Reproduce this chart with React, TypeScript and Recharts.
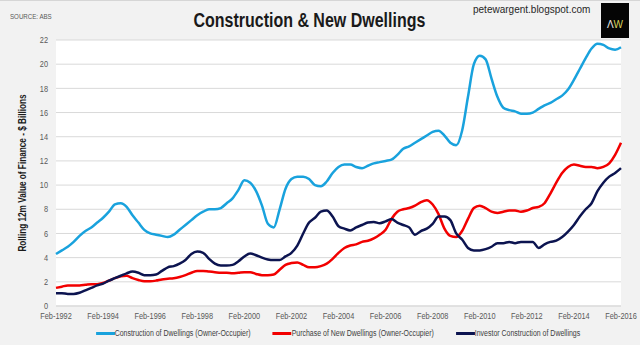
import { CartesianGrid, Line, LineChart, XAxis, YAxis } from "recharts";

// quarterly readings (Feb, May, Aug, Nov) from Feb-1992 to Feb-2016, $ billions
const ownerConstruction = [
  4.3, 4.6, 4.9, 5.3, 5.8, 6.2, 6.5, 6.9, 7.3, 7.8, 8.4, 8.5,
  8.2, 7.5, 6.9, 6.3, 6.0, 5.9, 5.8, 5.7, 5.9, 6.3, 6.7, 7.1,
  7.5, 7.8, 8.0, 8.0, 8.1, 8.5, 8.9, 9.6, 10.4, 10.2, 9.5, 8.3,
  6.8, 6.5, 8.0, 9.7, 10.5, 10.7, 10.7, 10.5, 10.0, 9.9, 10.3, 11.0,
  11.5, 11.7, 11.7, 11.5, 11.4, 11.6, 11.8, 11.9, 12.0, 12.1, 12.5, 13.0,
  13.2, 13.5, 13.8, 14.1, 14.4, 14.5, 14.1, 13.5, 13.3, 14.5, 17.3, 20.0,
  20.7, 20.4, 18.8, 17.3, 16.4, 16.2, 16.1, 15.9, 15.9, 16.0, 16.3, 16.6,
  16.8, 17.1, 17.4, 17.9, 18.7, 19.6, 20.5, 21.3, 21.7, 21.6, 21.3, 21.2,
  21.4,
];
const ownerPurchase = [
  1.5, 1.6, 1.7, 1.7, 1.7, 1.75, 1.8, 1.8, 1.9, 2.1, 2.3, 2.45,
  2.5, 2.3, 2.15, 2.05, 2.05, 2.1, 2.2, 2.25, 2.3, 2.4, 2.55, 2.75,
  2.9, 2.9, 2.85, 2.8, 2.75, 2.75, 2.7, 2.75, 2.8, 2.8, 2.65, 2.55,
  2.55, 2.6, 3.0, 3.4, 3.55, 3.6, 3.4, 3.2, 3.2, 3.3, 3.5, 3.9,
  4.4, 4.8, 5.0, 5.1, 5.3, 5.4, 5.6, 5.9, 6.3, 7.2, 7.8, 8.0,
  8.1, 8.3, 8.6, 8.75, 8.4, 7.6, 6.4, 5.8, 5.7, 6.2, 7.2, 8.1,
  8.3, 8.1, 7.8, 7.7, 7.8, 7.9, 7.9, 7.8, 7.9, 8.1, 8.2, 8.5,
  9.3, 10.2, 11.0, 11.5, 11.7, 11.6, 11.5, 11.5, 11.4, 11.5, 11.8, 12.5,
  13.5,
];
const investorConstruction = [
  1.05, 1.05, 1.0, 1.0, 1.1, 1.3, 1.5, 1.7, 1.85, 2.1, 2.3, 2.5,
  2.7, 2.85, 2.75, 2.55, 2.55, 2.6, 2.9, 3.2, 3.3, 3.5, 3.8, 4.3,
  4.5, 4.4, 3.9, 3.5, 3.35, 3.35, 3.4, 3.7, 4.1, 4.35, 4.2, 4.0,
  3.85, 3.8, 3.8, 4.1, 4.4, 5.0, 6.0, 6.9, 7.3, 7.8, 7.9, 7.4,
  6.6, 6.4, 6.25, 6.5, 6.7, 6.9, 6.95, 6.85, 7.0, 7.2, 6.9, 6.7,
  6.5, 5.9, 6.2, 6.4, 6.8, 7.4, 7.4, 7.1, 6.0, 5.5, 4.8, 4.6,
  4.6, 4.7, 4.9, 5.2, 5.2, 5.3, 5.2, 5.3, 5.3, 5.3, 4.8, 5.1,
  5.3, 5.4, 5.7, 6.15, 6.7, 7.4, 8.0, 8.5, 9.5, 10.2, 10.7, 11.0,
  11.4,
];

const tickLabels = [
  "Feb-1992", "Feb-1994", "Feb-1996", "Feb-1998", "Feb-2000", "Feb-2002", "Feb-2004",
  "Feb-2006", "Feb-2008", "Feb-2010", "Feb-2012", "Feb-2014", "Feb-2016",
];
const yTicks = [0, 2, 4, 6, 8, 10, 12, 14, 16, 18, 20, 22];

const series = [
  { key: "owner", name: "Construction of Dwellings (Owner-Occupier)", color: "#19a2dd" },
  { key: "purchase", name: "Purchase of New Dwellings (Owner-Occupier)", color: "#f20000" },
  { key: "investor", name: "Investor Construction of Dwellings", color: "#0c1450" },
];

const data = ownerConstruction.map((v, i) => ({
  q: i,
  owner: v,
  purchase: ownerPurchase[i],
  investor: investorConstruction[i],
}));

// no narrow font installed, so Liberation Sans gets squeezed horizontally
const SANS = "'Liberation Sans', Arial, sans-serif";
const SQUEEZE = 0.82;

function NarrowTick(props: any) {
  const { x, y, payload, textAnchor, vertical } = props;
  const label = vertical ? payload.value : tickLabels[payload.value / 8];
  return (
    <text
      transform={`translate(${x},${y}) scale(${SQUEEZE},1)`}
      textAnchor={textAnchor}
      dy={vertical ? "0.355em" : "0.71em"}
      fontSize={9}
      fill="#595959"
      fontFamily={SANS}
    >
      {label}
    </text>
  );
}

export default function App() {
  return (
    <div
      style={{
        position: "absolute",
        left: 0,
        top: 0,
        width: 640,
        height: 345,
        background: "#f2f2f2",
        overflow: "hidden",
        fontFamily: SANS,
      }}
    >
      <div style={{ position: "absolute", left: 0, top: 0, width: 640, height: 1, background: "#d6d6d6" }} />
      <div
        style={{
          position: "absolute",
          left: 10,
          top: 13,
          fontSize: 7.5,
          lineHeight: "8px",
          color: "#595959",
          whiteSpace: "nowrap",
          transform: `scaleX(${SQUEEZE})`,
          transformOrigin: "0 0",
        }}
      >
        SOURCE: ABS
      </div>
      <div
        style={{
          position: "absolute",
          left: 0,
          top: 10,
          width: 618,
          textAlign: "center",
        }}
      >
        <span
          style={{
            display: "inline-block",
            fontWeight: "bold",
            fontSize: 19.5,
            lineHeight: "20px",
            color: "#1a1a1a",
            whiteSpace: "nowrap",
            transform: `scaleX(${SQUEEZE})`,
          }}
        >
          Construction &amp; New Dwellings
        </span>
      </div>
      <div
        style={{
          position: "absolute",
          left: 473,
          top: 4,
          fontSize: 10,
          lineHeight: "12px",
          color: "#262626",
        }}
      >
        petewargent.blogspot.com
      </div>
      <div
        style={{
          position: "absolute",
          left: 601,
          top: 3,
          width: 28,
          height: 35,
          background: "#050505",
          fontSize: 10,
          lineHeight: "35px",
          textAlign: "center",
          paddingTop: 4,
          boxSizing: "border-box",
        }}
      >
        <span style={{ color: "#e8e8e8" }}>Λ</span>
        <span style={{ color: "#d8d25a" }}>W</span>
      </div>

      <LineChart
        width={640}
        height={345}
        data={data}
        margin={{ top: 40, right: 19, bottom: 0, left: 0 }}
        style={{ position: "absolute", left: 0, top: 0 }}
      >
        <CartesianGrid vertical={false} stroke="#d9d9d9" fill="#ffffff" />
        <XAxis
          type="number"
          dataKey="q"
          domain={[0, 96]}
          ticks={tickLabels.map((_, i) => i * 8)}
          interval={0}
          tick={<NarrowTick />}
          tickLine={false}
          tickSize={4}
          tickMargin={3}
          axisLine={{ stroke: "#d9d9d9" }}
          height={39}
        />
        <YAxis
          domain={[0, 22]}
          ticks={yTicks}
          interval={0}
          tick={<NarrowTick vertical />}
          tickLine={false}
          axisLine={false}
          width={56}
        />
        {series.map((s) => (
          <Line
            key={s.key}
            type="monotone"
            dataKey={s.key}
            name={s.name}
            stroke={s.color}
            strokeWidth={2.5}
            dot={false}
            isAnimationActive={false}
          />
        ))}
      </LineChart>

      <div
        style={{
          position: "absolute",
          left: 23 - 150,
          top: 173 - 6,
          width: 300,
          height: 12,
          textAlign: "center",
          fontWeight: "bold",
          fontSize: 10,
          lineHeight: "12px",
          color: "#1a1a1a",
          whiteSpace: "nowrap",
          transform: `rotate(-90deg) scaleX(${SQUEEZE})`,
        }}
      >
        Rolling 12m Value of Finance - $ Billions
      </div>

      <div
        style={{
          position: "absolute",
          left: 338 - 400,
          width: 800,
          top: 328,
          display: "flex",
          justifyContent: "center",
          gap: 27,
          fontSize: 8.5,
          lineHeight: "10px",
          color: "#404040",
          whiteSpace: "nowrap",
          transform: `scaleX(${SQUEEZE})`,
        }}
      >
        {series.map((s) => (
          <div key={s.key} style={{ display: "flex", alignItems: "center" }}>
            <span style={{ display: "inline-block", width: 23, height: 3, background: s.color }} />
            <span>{s.name}</span>
          </div>
        ))}
      </div>
    </div>
  );
}
